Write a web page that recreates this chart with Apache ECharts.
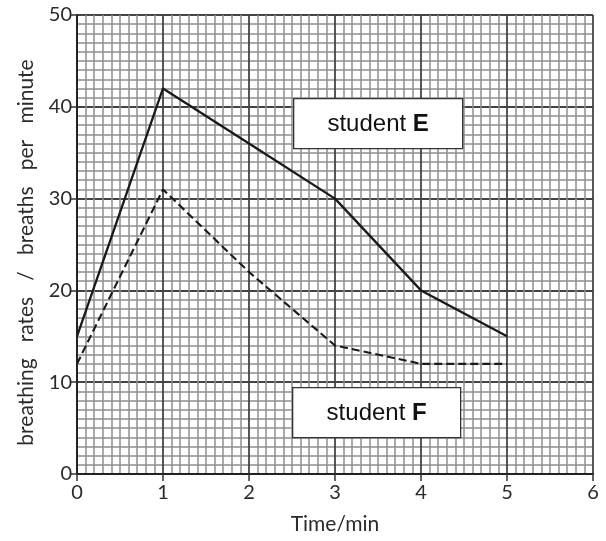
<!DOCTYPE html>
<html>
<head>
<meta charset="utf-8">
<script src="https://cdn.jsdelivr.net/npm/echarts@6/dist/echarts.min.js"></script>
<style>
  html, body { margin: 0; padding: 0; background: #fff; }
  #chart { width: 606px; height: 541px; }
</style>
</head>
<body>
<div id="chart"></div>
<script>
// Breathing rate after exercise, two students
const timeMin = [0, 1, 2, 3, 4, 5];
const studentE = [15, 42, 36, 30, 20, 15];
const studentF = [12, 31, 22, 14, 12, 12];
const xTicks = [0, 1, 2, 3, 4, 5, 6];
const yTicks = [0, 10, 20, 30, 40, 50];

const pairs = (xs, ys) => xs.map((x, i) => [x, ys[i]]);

const chart = echarts.init(document.getElementById('chart'), null, { renderer: 'canvas' });

const axisFont = 'Lato, "Open Sans", sans-serif';
const boxFont = '"Liberation Sans", Arial, sans-serif';

function labelBox(left, top, w, h, letter) {
  return {
    type: 'group', left: left, top: top, z: 100,
    children: [
      { type: 'rect', z: 100, shape: { x: 0, y: 0, width: w, height: h },
        style: { fill: '#fff', stroke: '#333', lineWidth: 1.3 } },
      { type: 'text', z: 101, x: w / 2, y: h / 2 + 1,
        style: {
          text: '{n|student }{b|' + letter + '}', align: 'center', verticalAlign: 'middle',
          rich: {
            n: { fontFamily: boxFont, fontSize: 24, fill: '#111' },
            b: { fontFamily: boxFont, fontSize: 24, fontWeight: 'bold', fill: '#111' }
          }
        } }
    ]
  };
}

chart.setOption({
  animation: false,
  backgroundColor: '#ffffff',
  grid: { left: 77, right: 13, top: 15, bottom: 67, containLabel: false },
  xAxis: {
    type: 'value',
    min: xTicks[0],
    max: xTicks[xTicks.length - 1],
    interval: 1,
    name: 'Time/min',
    nameLocation: 'middle',
    nameGap: 40,
    nameTextStyle: { fontFamily: axisFont, fontSize: 21, color: '#2a2a2a' },
    axisLine: { show: true, lineStyle: { color: '#222', width: 2 } },
    axisTick: { show: true, length: 7, lineStyle: { color: '#333', width: 1.5 } },
    axisLabel: { fontFamily: axisFont, fontSize: 20, color: '#2a2a2a', margin: 9 },
    splitLine: { show: true, lineStyle: { color: '#444', width: 1.8 } },
    minorTick: { show: false, splitNumber: 10 },
    minorSplitLine: { show: true, lineStyle: { color: '#8e8e8e', width: 1.5 } }
  },
  yAxis: {
    type: 'value',
    min: yTicks[0],
    max: yTicks[yTicks.length - 1],
    interval: 10,
    name: 'breathing   rates   /   breaths   per   minute',
    nameLocation: 'middle',
    nameGap: 40,
    nameTextStyle: { fontFamily: axisFont, fontSize: 21, color: '#2a2a2a', padding: [0, 16, 0, 0] },
    axisLine: { show: true, lineStyle: { color: '#222', width: 2 } },
    axisTick: { show: true, length: 6, lineStyle: { color: '#333', width: 1.5 } },
    axisLabel: { fontFamily: axisFont, fontSize: 20, color: '#2a2a2a', margin: 5 },
    splitLine: { show: true, lineStyle: { color: '#444', width: 1.8 } },
    minorTick: { show: false, splitNumber: 10 },
    minorSplitLine: { show: true, lineStyle: { color: '#8e8e8e', width: 1.5 } }
  },
  series: [
    {
      name: 'student E',
      type: 'line',
      data: pairs(timeMin, studentE),
      showSymbol: false,
      lineStyle: { color: '#1a1a1a', width: 2.3, type: 'solid' },
      z: 5
    },
    {
      name: 'student F',
      type: 'line',
      data: pairs(timeMin, studentF),
      showSymbol: false,
      lineStyle: { color: '#1a1a1a', width: 2.1, type: [8, 4] },
      z: 5
    }
  ],
  graphic: [
    labelBox(293, 98, 169, 50, 'E'),
    labelBox(292, 387, 168, 50, 'F')
  ]
});
</script>
</body>
</html>
